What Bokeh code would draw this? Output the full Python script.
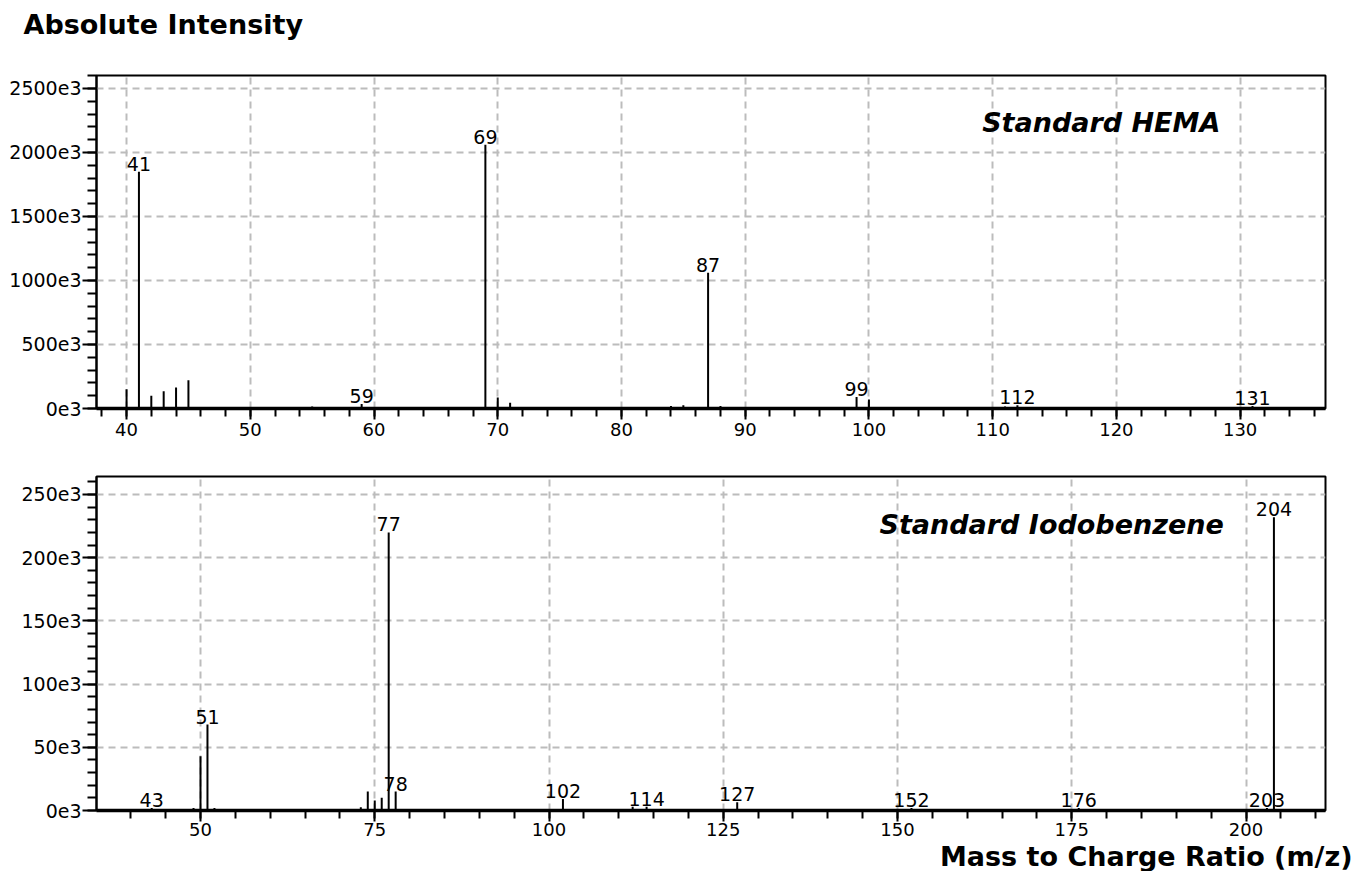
from bokeh.plotting import figure
from bokeh.models import FixedTicker, Range1d, Title, ColumnDataSource
from bokeh.layouts import column
from bokeh.core.properties import value
from bokeh.embed import file_html
from bokeh.resources import INLINE

# ---------------- data: Standard HEMA ----------------
hema_mz = [40, 41, 42, 43, 44, 45, 55, 59, 69, 70, 71, 84, 85, 87, 88, 99, 100, 111, 112, 130, 131]
hema_int = [150e3, 1850e3, 100e3, 135e3, 165e3, 220e3, 15e3, 35e3, 2060e3, 85e3, 45e3, 20e3, 25e3,
            1060e3, 20e3, 90e3, 70e3, 15e3, 25e3, 10e3, 20e3]
hema_labels = [41, 59, 69, 87, 99, 112, 131]

# ---------------- data: Standard Iodobenzene ----------------
iodo_mz = [43, 49, 50, 51, 52, 73, 74, 75, 76, 77, 78, 102, 112, 114, 127, 152, 176, 203, 204]
iodo_int = [2e3, 2e3, 43e3, 68e3, 2e3, 2.5e3, 15e3, 8e3, 10e3, 220e3, 15e3, 9e3, 3e3, 3e3, 6.5e3,
            2e3, 2e3, 2e3, 232e3]
iodo_labels = [43, 51, 77, 78, 102, 114, 127, 152, 176, 203, 204]

# ---------------- axes ----------------
hema_xticks = [40, 50, 60, 70, 80, 90, 100, 110, 120, 130]
hema_yticks = [0, 500e3, 1000e3, 1500e3, 2000e3, 2500e3]
hema_ytick_labels = ["0e3", "500e3", "1000e3", "1500e3", "2000e3", "2500e3"]
iodo_xticks = [50, 75, 100, 125, 150, 175, 200]
iodo_yticks = [0, 50e3, 100e3, 150e3, 200e3, 250e3]
iodo_ytick_labels = ["0e3", "50e3", "100e3", "150e3", "200e3", "250e3"]

FONT = "DejaVu Sans"
GRID = "#bcbcbc"


def style(p, xticks, xminor, yticks, ylabels, yminor, xstandoff):
    p.xaxis.ticker = FixedTicker(ticks=xticks, minor_ticks=xminor)
    p.yaxis.ticker = FixedTicker(ticks=yticks, minor_ticks=yminor)
    p.yaxis.major_label_overrides = {t: l for t, l in zip(yticks, ylabels)}
    for ax in (p.xaxis, p.yaxis):
        ax.major_label_text_font = FONT
        ax.major_label_text_color = "black"
        ax.axis_line_color = "black"
        ax.major_tick_line_color = "black"
        ax.minor_tick_line_color = "black"
        ax.major_tick_in = 0
        ax.minor_tick_in = 0
        ax.major_tick_line_width = 2
        ax.minor_tick_line_width = 2
        ax.axis_label_standoff = 0
    p.xaxis.major_label_text_font_size = "18px"
    p.yaxis.major_label_text_font_size = "19px"
    p.xaxis.axis_line_width = 3.5
    p.yaxis.axis_line_width = 2
    p.xaxis.major_tick_out = 11
    p.xaxis.minor_tick_out = 8
    p.xaxis.major_label_standoff = xstandoff
    p.yaxis.major_tick_out = 14
    p.yaxis.minor_tick_out = 9
    p.yaxis.major_label_standoff = 1
    for g in (p.xgrid, p.ygrid):
        g.grid_line_color = GRID
        g.grid_line_dash = "7 5"
        g.grid_line_width = 2
    p.outline_line_color = "black"
    p.outline_line_width = 2
    p.background_fill_color = "white"
    p.border_fill_color = "white"


def peaks(p, mz, inten, labels):
    src = ColumnDataSource(dict(x=mz, y0=[0] * len(mz), y=inten))
    p.segment(x0="x", y0="y0", x1="x", y1="y", source=src, line_color="black", line_width=2)
    lab_y = [inten[mz.index(m)] for m in labels]
    lsrc = ColumnDataSource(dict(x=labels, y=lab_y, t=[str(m) for m in labels]))
    p.text(x="x", y="y", text="t", source=lsrc, text_align="center", text_baseline="bottom",
           y_offset=-1, text_font=value(FONT), text_font_size="19px", text_color="black")


# ---------------- top panel ----------------
p1 = figure(frame_width=1229, frame_height=333, output_backend="svg", toolbar_location=None,
            x_range=Range1d(37.57, 136.9), y_range=Range1d(0, 2601e3),
            min_border_left=96, min_border_right=27, min_border_top=75, min_border_bottom=40)
style(p1, hema_xticks, list(range(38, 138, 2)), hema_yticks, hema_ytick_labels,
      [i * 100e3 for i in range(0, 27)], 3)
peaks(p1, hema_mz, hema_int, hema_labels)
p1.text(x=[128.4], y=[2234e3], text=["Standard HEMA"], text_align="right", text_baseline="middle",
        text_font=value(FONT), text_font_size="27px", text_font_style="bold italic", text_color="black")
p1.add_layout(Title(text="Absolute Intensity\n", align="left", offset=-73, standoff=10,
                    text_font=FONT, text_font_size="27px", text_font_style="bold",
                    text_color="black"), "above")

# ---------------- bottom panel ----------------
p2 = figure(frame_width=1229, frame_height=334, output_backend="svg", toolbar_location=None,
            x_range=Range1d(35.08, 211.4), y_range=Range1d(0, 264.2e3),
            min_border_left=96, min_border_right=27, min_border_top=28, min_border_bottom=60)
style(p2, iodo_xticks, list(range(40, 215, 5)), iodo_yticks, iodo_ytick_labels,
      [i * 10e3 for i in range(0, 27)], 1)
peaks(p2, iodo_mz, iodo_int, iodo_labels)
p2.text(x=[196.8], y=[226e3], text=["Standard Iodobenzene"], text_align="right", text_baseline="middle",
        text_font=value(FONT), text_font_size="27px", text_font_style="bold italic", text_color="black")
p2.add_layout(Title(text="Mass to Charge Ratio (m/z)", align="right", offset=-27, standoff=0,
                    text_font=FONT, text_font_size="27px", text_font_style="bold",
                    text_color="black"), "below")

layout = column(p1, p2)
open("out.html", "w").write(file_html(layout, INLINE))
